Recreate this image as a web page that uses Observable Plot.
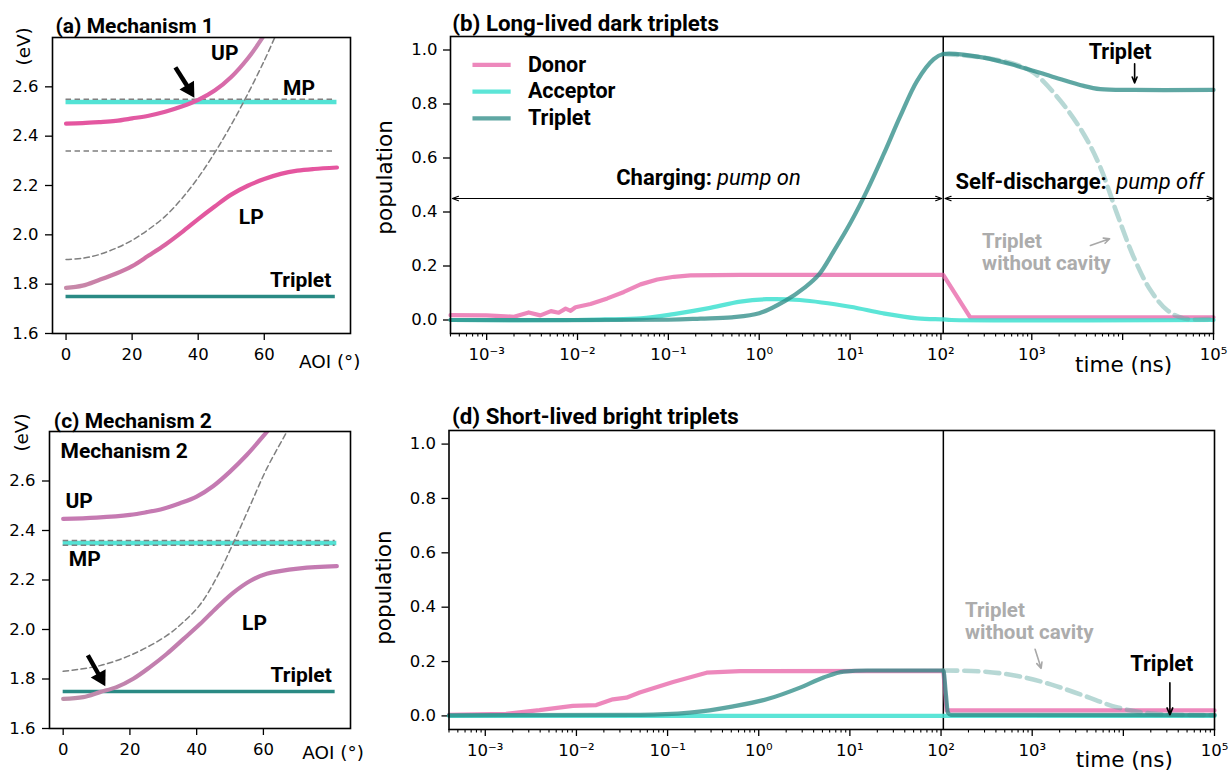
<!DOCTYPE html>
<html>
<head>
<meta charset="utf-8">
<script src="https://cdn.jsdelivr.net/npm/d3@7"></script>
<script src="https://cdn.jsdelivr.net/npm/@observablehq/plot@0.6"></script>
<style>
  body { margin: 0; background: white; }
  #fig { position: relative; width: 1229px; height: 772px; background: white; overflow: hidden; }
</style>
</head>
<body>
<div id="fig"></div>
<script>
// ---------------- DATA ----------------
// Panel (a) Mechanism 1 : energy (eV) vs angle of incidence (deg)
const aUP_ang = [0, 5, 10, 15, 20, 25, 30, 35, 40, 45, 50, 55, 59, 61];
const aUP_E   = [2.451, 2.453, 2.457, 2.462, 2.472, 2.483, 2.499, 2.520, 2.547, 2.585, 2.640, 2.715, 2.790, 2.835];
const aLP_ang = [0, 5, 10, 15, 20, 25, 30, 35, 40, 45, 50, 55, 60, 65, 70, 75, 82];
const aLP_E   = [1.785, 1.794, 1.817, 1.842, 1.873, 1.916, 1.960, 2.010, 2.064, 2.115, 2.163, 2.199, 2.226, 2.247, 2.260, 2.267, 2.273];
const aCav_ang = [0, 5, 10, 15, 20, 25, 30, 35, 40, 45, 50, 55, 60, 63.5];
const aCav_E   = [1.900, 1.905, 1.920, 1.945, 1.978, 2.022, 2.075, 2.146, 2.232, 2.333, 2.446, 2.571, 2.706, 2.810];
const aExcitons = [2.55, 2.34];   // dashed uncoupled levels
const aMP = 2.539;
const aTriplet = 1.75;

// Panel (c) Mechanism 2
const cUP_ang = [0, 10, 20, 25, 30, 35, 40, 45, 50, 55, 60, 62];
const cUP_E   = [2.447, 2.452, 2.463, 2.474, 2.488, 2.510, 2.537, 2.580, 2.638, 2.705, 2.782, 2.815];
const cLP_ang = [0, 6, 11, 16, 21, 26, 31, 36, 41, 46, 51, 56, 61, 71, 82];
const cLP_E   = [1.720, 1.727, 1.747, 1.767, 1.801, 1.848, 1.901, 1.961, 2.022, 2.088, 2.149, 2.196, 2.225, 2.247, 2.256];
const cCav_ang = [0, 11, 21, 31, 36, 41, 46, 51, 56, 61, 67.5];
const cCav_E   = [1.831, 1.854, 1.901, 1.975, 2.030, 2.100, 2.210, 2.350, 2.500, 2.650, 2.810];
const cExcitons = [2.36, 2.34];
const cMP = 2.35;
const cTriplet = 1.75;

const aoiTicks = [0, 20, 40, 60];
const energyTicks = [1.6, 1.8, 2.0, 2.2, 2.4, 2.6];

// Panel (b) Long-lived dark triplets : population vs time (ns)
const bDonor_t = [0.0004, 0.001, 0.002, 0.0029, 0.0039, 0.0051, 0.0062, 0.0074, 0.0084, 0.0095, 0.0139, 0.0213, 0.0324, 0.0494, 0.0755, 0.115, 0.175, 0.62, 106, 210, 100000];
const bDonor_p = [0.018, 0.017, 0.012, 0.028, 0.017, 0.033, 0.027, 0.042, 0.034, 0.047, 0.059, 0.080, 0.104, 0.132, 0.150, 0.160, 0.165, 0.167, 0.167, 0.010, 0.010];
const bAcceptor_t = [0.0004, 0.01, 0.02, 0.05, 0.115, 0.27, 0.62, 1.2, 2.8, 10, 23, 55, 106, 130, 100000];
const bAcceptor_p = [0, 0, 0.002, 0.006, 0.022, 0.043, 0.068, 0.077, 0.074, 0.049, 0.025, 0.006, 0.002, 0, 0];
const bTriplet_t = [0.0004, 0.1, 0.226, 0.5, 1, 1.95, 3.16, 4.53, 6.62, 10, 15.4, 23.5, 35.8, 54.7, 83.4, 106, 295, 689, 1600, 3724, 5675, 13180, 100000];
const bTriplet_p = [0, 0.001, 0.005, 0.010, 0.025, 0.072, 0.120, 0.168, 0.255, 0.357, 0.480, 0.615, 0.756, 0.886, 0.966, 0.985, 0.972, 0.941, 0.904, 0.867, 0.855, 0.852, 0.852];
const bNoCav_t = [106, 295, 689, 1047, 2065, 3724, 5675, 8670, 13180, 20180, 30760, 46880, 100000];
const bNoCav_p = [0.985, 0.972, 0.945, 0.916, 0.812, 0.689, 0.566, 0.394, 0.234, 0.111, 0.037, 0.006, 0.004];

// Panel (d) Short-lived bright triplets
const dDonor_t = [0.0004, 0.00169, 0.00393, 0.00912, 0.0165, 0.0251, 0.0353, 0.0494, 0.115, 0.268, 0.622, 106, 115, 100000];
const dDonor_p = [0.004, 0.008, 0.021, 0.037, 0.040, 0.061, 0.067, 0.086, 0.125, 0.159, 0.165, 0.166, 0.020, 0.020];
const dAcceptor_t = [0.0004, 100000];
const dAcceptor_p = [0, 0];
const dTriplet_t = [0.0004, 0.05, 0.175, 0.526, 1.22, 2.84, 5.14, 8.53, 15.4, 106, 113, 119, 128, 100000];
const dTriplet_p = [0.002, 0.004, 0.012, 0.035, 0.061, 0.104, 0.141, 0.163, 0.167, 0.167, 0.080, 0.012, 0.004, 0.003];
const dNoCav_t = [106, 295, 689, 1600, 3724, 8670, 20180, 100000];
const dNoCav_p = [0.167, 0.163, 0.147, 0.116, 0.074, 0.031, 0.009, 0.003];

const pumpOff = 106;   // ns, pump switched off
const seriesNames = ["Donor", "Acceptor", "Triplet"];
const popTicks = [0, 0.2, 0.4, 0.6, 0.8, 1.0];
const timeMajor = [1e-3, 1e-2, 1e-1, 1e0, 1e1, 1e2, 1e3, 1e4, 1e5];
const timeLabels = ["10⁻³", "10⁻²", "10⁻¹", "10⁰", "10¹", "10²", "10³", "", "10⁵"];

// ---------------- STYLE ----------------
const PINK = "#e5559f", TURQ = "#40e0d0", TEAL = "#2a8a84", GREY = "#7f7f7f";
const seriesColor = {Donor: PINK, Acceptor: TURQ, Triplet: TEAL};
const seriesOpacity = {Donor: 0.7, Acceptor: 0.85, Triplet: 0.75};
const BOLD = {fontFamily: "Roboto", fontWeight: "bold"};
const DV = "DejaVu Sans";
const baseStyle = {fontFamily: DV, fontSize: "16.5px", color: "black", background: "white", overflow: "visible"};

const zip = (xs, ys) => xs.map((x, i) => ({x, y: ys[i]}));
const fig = document.getElementById("fig");
function place(svg, left, top) {
  svg.style.position = "absolute"; svg.style.left = left + "px"; svg.style.top = top + "px";
  fig.appendChild(svg);
}
function addGrad(svg, id, x0, x1, stops) {
  const ns = "http://www.w3.org/2000/svg";
  let defs = svg.querySelector("defs");
  if (!defs) { defs = document.createElementNS(ns, "defs"); svg.insertBefore(defs, svg.firstChild); }
  const g = document.createElementNS(ns, "linearGradient");
  g.setAttribute("id", id); g.setAttribute("gradientUnits", "userSpaceOnUse");
  g.setAttribute("x1", x0); g.setAttribute("x2", x1); g.setAttribute("y1", 0); g.setAttribute("y2", 0);
  for (const [o, c] of stops) {
    const s = document.createElementNS(ns, "stop");
    s.setAttribute("offset", o); s.setAttribute("stop-color", c); g.appendChild(s);
  }
  defs.appendChild(g);
}
const T = (obj) => [obj];

// ---------------- ENERGY PANELS ----------------
function energyPanel(cfg) {
  return Plot.plot({
    width: 370, height: cfg.height,
    marginLeft: cfg.ml, marginRight: 20, marginTop: cfg.mt, marginBottom: cfg.mb,
    x: {domain: [-4.1, 86.1]}, y: {domain: [1.6, 2.8]},
    style: baseStyle,
    marks: [
      Plot.axisX({ticks: aoiTicks, tickSize: 7, tickPadding: 8, label: null, tickFormat: d => String(d), strokeWidth: 1.3}),
      Plot.axisY({ticks: energyTicks, tickSize: 7, tickPadding: 7, label: null, tickFormat: d3.format(".1f"), strokeWidth: 1.3}),
      Plot.ruleY([cfg.mp], {x1: 0, x2: 82, stroke: TURQ, strokeOpacity: 0.9, strokeWidth: 4.5}),
      Plot.ruleY(cfg.exc, {x1: 0, x2: 81.5, stroke: GREY, strokeWidth: 1.5, strokeDasharray: "5.5,3.5"}),
      Plot.line(zip(cfg.cavA, cfg.cavE), {x: "x", y: "y", stroke: GREY, strokeWidth: 1.5, strokeDasharray: "5.5,3.5", curve: "catmull-rom", clip: true}),
      Plot.ruleY([cfg.trip], {x1: 0, x2: 81.5, stroke: TEAL, strokeWidth: 3.5}),
      Plot.line(zip(cfg.upA, cfg.upE), {x: "x", y: "y", stroke: `url(#${cfg.id}UP)`, strokeWidth: 4.2, curve: "catmull-rom", clip: true}),
      Plot.line(zip(cfg.lpA, cfg.lpE), {x: "x", y: "y", stroke: `url(#${cfg.id}LP)`, strokeWidth: 4.2, curve: "catmull-rom", clip: true}),
      Plot.link(T(cfg.arrow), {x1: "x1", y1: "y1", x2: "x2", y2: "y2", stroke: "black", strokeWidth: 4.5}),
      Plot.dot(T(cfg.arrow), {x: "x2", y: "y2", symbol: "triangle", r: 6.3, fill: "black", rotate: cfg.arrow.rot}),
      ...cfg.labels.map(l => Plot.text(T(l), {x: "x", y: "y", text: "t", textAnchor: "start", fontSize: 21, ...BOLD})),
      Plot.text(T({t: "(eV)", y: cfg.evY}), {y: "y", text: "t", frameAnchor: "left", textAnchor: "middle", lineAnchor: "middle", dx: cfg.evDx, rotate: -90, fontSize: 18.4, fontFamily: DV}),
      Plot.text(T({t: "AOI (°)", x: cfg.aoiX}), {x: "x", text: "t", frameAnchor: "bottom", textAnchor: "middle", dy: cfg.aoiDy, fontSize: 18.4, fontFamily: DV}),
      Plot.text(T(cfg.title), {frameAnchor: "top-left", text: d => d, textAnchor: "start", dx: cfg.tdx, dy: cfg.tdy, fontSize: 21, ...BOLD}),
      Plot.frame({stroke: "black", strokeWidth: 1.6})
    ]
  });
}

const plotA = energyPanel({
  id: "a", height: 380, ml: 52, mt: 37, mb: 47,
  mp: aMP, exc: aExcitons, trip: aTriplet,
  cavA: aCav_ang, cavE: aCav_E, upA: aUP_ang, upE: aUP_E, lpA: aLP_ang, lpE: aLP_E,
  arrow: {x1: 33.1, y1: 2.679, x2: 37.3, y2: 2.590, rot: 148.6},
  labels: [
    {t: "UP", x: 43.9, y: 2.737}, {t: "MP", x: 65.7, y: 2.595},
    {t: "LP", x: 52.3, y: 2.071}, {t: "Triplet", x: 61.7, y: 1.815}
  ],
  evY: 2.764, evDx: -28, aoiX: 79.8, aoiDy: 34,
  title: "(a) Mechanism 1", tdx: 3, tdy: -19.5
});
{
  const sx = plotA.scale("x");
  addGrad(plotA, "aUP", sx.apply(0), sx.apply(60), [[0, PINK], [0.72, "#df5ea5"], [1, "#c58ab3"]]);
  addGrad(plotA, "aLP", sx.apply(0), sx.apply(82), [[0, "#c68aa9"], [0.22, "#cc7aa7"], [0.45, "#e2589f"], [1, PINK]]);
}
place(plotA, 0, 0);

const plotC = energyPanel({
  id: "c", height: 382, ml: 49, mt: 41, mb: 44,
  mp: cMP, exc: cExcitons, trip: cTriplet,
  cavA: cCav_ang, cavE: cCav_E, upA: cUP_ang, upE: cUP_E, lpA: cLP_ang, lpE: cLP_E,
  arrow: {x1: 7.4, y1: 1.896, x2: 11.2, y2: 1.805, rot: 150.9},
  labels: [
    {t: "Mechanism 2", x: -0.8, y: 2.72}, {t: "UP", x: 0.7, y: 2.518},
    {t: "MP", x: 1.7, y: 2.282}, {t: "LP", x: 53.6, y: 2.026}, {t: "Triplet", x: 62.1, y: 1.817}
  ],
  evY: 2.796, evDx: -27, aoiX: 80.9, aoiDy: 30.5,
  title: "(c) Mechanism 2", tdx: 4.3, tdy: -18.5
});
{
  const sx = plotC.scale("x");
  addGrad(plotC, "cUP", sx.apply(0), sx.apply(62), [[0, "#c67ab2"], [1, "#c47ab2"]]);
  addGrad(plotC, "cLP", sx.apply(0), sx.apply(82), [[0, "#bd8fa9"], [0.3, "#c27fae"], [1, "#c47ab2"]]);
}
place(plotC, 0, 390);

// ---------------- POPULATION PANELS ----------------
const minorTicks = [];
for (let k = -4; k <= 4; k++) for (let m = 2; m <= 9; m++) {
  const v = m * Math.pow(10, k);
  if (v >= 0.0004 && v <= 1e5) minorTicks.push(v);
}
const labelOf = new Map(timeMajor.map((v, i) => [v, timeLabels[i]]));

function popPanel(cfg) {
  const lineOf = (name, t, p) => Plot.line(zip(t, p), {x: "x", y: "y", stroke: seriesColor[name], strokeOpacity: seriesOpacity[name], strokeWidth: 4.2, curve: cfg.curves[name]});
  const legendY = [0.945, 0.846, 0.747];
  const legendMarks = cfg.legend ? seriesNames.flatMap((n, i) => [
    Plot.link(T({x1: 0.000698, x2: 0.001837, y: legendY[i]}), {x1: "x1", x2: "x2", y1: "y", y2: "y", stroke: seriesColor[n], strokeOpacity: seriesOpacity[n], strokeWidth: 4.2}),
    Plot.text(T({x: 0.002844, y: legendY[i], t: n}), {x: "x", y: "y", text: "t", textAnchor: "start", fontSize: 21.5, ...BOLD})
  ]) : [];
  return Plot.plot({
    width: 859, height: cfg.height,
    marginLeft: cfg.ml, marginRight: cfg.mr, marginTop: cfg.mt, marginBottom: cfg.mb,
    x: {type: "log", domain: [0.0004, 1e5]}, y: {domain: [-0.05, 1.05]},
    style: baseStyle,
    marks: [
      Plot.axisX({ticks: minorTicks, tickSize: 3.5, tickFormat: () => "", label: null, strokeWidth: 1.1}),
      Plot.axisX({ticks: timeMajor, tickSize: 7, tickPadding: 8, tickFormat: d => labelOf.get(d) ?? "", label: null, strokeWidth: 1.3}),
      Plot.axisY({ticks: popTicks, tickSize: 7, tickPadding: 6, tickFormat: d3.format(".1f"), label: null, strokeWidth: 1.3}),
      Plot.ruleX([pumpOff], {stroke: "black", strokeWidth: 1.5}),
      lineOf("Donor", cfg.donor[0], cfg.donor[1]),
      lineOf("Acceptor", cfg.acc[0], cfg.acc[1]),
      Plot.line(zip(cfg.nocav[0], cfg.nocav[1]), {x: "x", y: "y", stroke: "#5fa8a2", strokeOpacity: 0.45, strokeWidth: 4.6, strokeDasharray: "14,7", curve: "catmull-rom"}),
      lineOf("Triplet", cfg.trip[0], cfg.trip[1]),
      ...legendMarks,
      ...cfg.extra,
      Plot.text(T(cfg.grey), {x: "x", y: "y", text: "t", textAnchor: "start", lineAnchor: "middle", lineHeight: 1.08, fill: "#acacac", fontSize: 20.5, ...BOLD}),
      Plot.arrow(T(cfg.greyArrow), {x1: "x1", y1: "y1", x2: "x2", y2: "y2", stroke: "#a8a8a8", strokeWidth: 1.6, headLength: 6, headAngle: 50}),
      Plot.text(T(cfg.tripLabel), {x: "x", y: "y", text: "t", textAnchor: "start", fontSize: 21.5, ...BOLD}),
      Plot.arrow(T(cfg.tripArrow), {x1: "x1", y1: "y1", x2: "x2", y2: "y2", stroke: "black", strokeWidth: 1.6, headLength: 7, headAngle: 45}),
      Plot.text(T({t: "population", y: cfg.popY}), {y: "y", text: "t", frameAnchor: "left", textAnchor: "middle", lineAnchor: "middle", dx: -65, rotate: -90, fontSize: 21.5, fontFamily: DV}),
      Plot.text(T({t: "time (ns)", x: 10250}), {x: "x", text: "t", frameAnchor: "bottom", textAnchor: "middle", dy: cfg.timeDy, fontSize: 21.5, fontFamily: DV}),
      Plot.text(T(cfg.title), {frameAnchor: "top-left", text: d => d, textAnchor: "start", dx: cfg.tdx, dy: cfg.tdy, fontSize: 22.3, ...BOLD}),
      Plot.frame({stroke: "black", strokeWidth: 1.6})
    ]
  });
}

const arrowOpts = {stroke: "black", strokeWidth: 1.2, headLength: 8, headAngle: 40};
const plotB = popPanel({
  height: 380, ml: 80, mr: 16, mt: 36, mb: 47, legend: true,
  curves: {Donor: "linear", Acceptor: "catmull-rom", Triplet: "catmull-rom"},
  donor: [bDonor_t, bDonor_p], acc: [bAcceptor_t, bAcceptor_p], trip: [bTriplet_t, bTriplet_p], nocav: [bNoCav_t, bNoCav_p],
  extra: [
    Plot.arrow(T({x1: 0.2, x2: 0.00042, y: 0.45}), {x1: "x1", x2: "x2", y1: "y", y2: "y", ...arrowOpts}),
    Plot.arrow(T({x1: 0.2, x2: 102, y: 0.45}), {x1: "x1", x2: "x2", y1: "y", y2: "y", ...arrowOpts}),
    Plot.arrow(T({x1: 3300, x2: 111, y: 0.45}), {x1: "x1", x2: "x2", y1: "y", y2: "y", ...arrowOpts}),
    Plot.arrow(T({x1: 3300, x2: 99000, y: 0.45}), {x1: "x1", x2: "x2", y1: "y", y2: "y", ...arrowOpts}),
    Plot.text(T({x: 0.31, y: 0.526, t: "Charging:"}), {x: "x", y: "y", text: "t", textAnchor: "end", dx: -1, fontSize: 22, ...BOLD}),
    Plot.text(T({x: 0.31, y: 0.526, t: "pump on"}), {x: "x", y: "y", text: "t", textAnchor: "start", dx: 4, fontSize: 22, fontFamily: "Roboto", fontStyle: "italic"}),
    Plot.text(T({x: 144.5, y: 0.512, t: "Self-discharge:"}), {x: "x", y: "y", text: "t", textAnchor: "start", fontSize: 22, ...BOLD}),
    Plot.text(T({x: 8500, y: 0.512, t: "pump off"}), {x: "x", y: "y", text: "t", textAnchor: "start", fontSize: 22, fontFamily: "Roboto", fontStyle: "italic"})
  ],
  grey: {x: 284, y: 0.252, t: "Triplet\nwithout cavity"},
  greyArrow: {x1: 4416, y1: 0.276, x2: 7190, y2: 0.301},
  tripLabel: {x: 4230, y: 0.993, t: "Triplet"},
  tripArrow: {x1: 13550, y1: 0.949, x2: 13550, y2: 0.878},
  popY: 0.528, timeDy: 38,
  title: "(b) Long-lived dark triplets", tdx: 1.7, tdy: -21.7
});
place(plotB, 370, 0);

const plotD = popPanel({
  height: 382, ml: 78.5, mr: 15, mt: 40, mb: 43, legend: false,
  curves: {Donor: "linear", Acceptor: "linear", Triplet: "monotone-x"},
  donor: [dDonor_t, dDonor_p], acc: [dAcceptor_t, dAcceptor_p], trip: [dTriplet_t, dTriplet_p], nocav: [dNoCav_t, dNoCav_p],
  extra: [],
  grey: {x: 183, y: 0.349, t: "Triplet\nwithout cavity"},
  greyArrow: {x1: 1076, y1: 0.245, x2: 1253, y2: 0.175},
  tripLabel: {x: 11940, y: 0.192, t: "Triplet"},
  tripArrow: {x1: 32400, y1: 0.122, x2: 32400, y2: 0.004},
  popY: 0.472, timeDy: 37,
  title: "(d) Short-lived bright triplets", tdx: 3, tdy: -22.5
});
place(plotD, 370, 390);
</script>
</body>
</html>
